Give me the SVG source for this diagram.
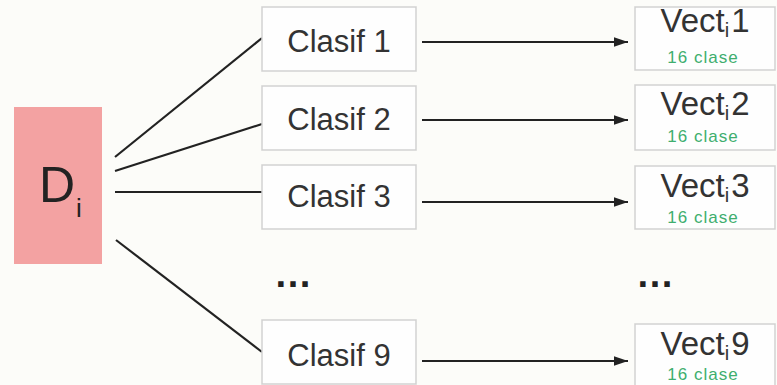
<svg xmlns="http://www.w3.org/2000/svg" width="777" height="385" viewBox="0 0 777 385">
<defs>
<style>
.box{fill:#fefefe;stroke:#d2d2d2;stroke-width:1.5}
.lbl{font-family:"Liberation Sans",Arial,sans-serif;fill:#333;font-size:31px;text-anchor:middle}
.vec{font-family:"Liberation Sans",Arial,sans-serif;fill:#333;font-size:33px;text-anchor:middle}
.sub{font-size:20px}
.cls{font-family:"Liberation Sans",Arial,sans-serif;fill:#3fae6e;font-size:17px;letter-spacing:1px;text-anchor:middle}
.ln{stroke:#222;stroke-width:2.2;fill:none}
.dots{font-family:"Liberation Sans",Arial,sans-serif;fill:#222;font-size:38px;font-weight:bold}
</style>
<marker id="ah" viewBox="0 0 10 10" refX="10" refY="5" markerWidth="6.5" markerHeight="4.3" markerUnits="strokeWidth" orient="auto" preserveAspectRatio="none">
<path d="M0,0 L10,5 L0,10 z" fill="#222"/>
</marker>
</defs>
<rect width="777" height="385" fill="#fcfcf9"/>

<g id="connectors">
<line class="ln" x1="115" y1="157" x2="262" y2="38"/>
<line class="ln" x1="115" y1="171" x2="262" y2="124"/>
<line class="ln" x1="115" y1="192" x2="262" y2="192"/>
<line class="ln" x1="116" y1="240" x2="262" y2="352"/>
<line class="ln" x1="422" y1="42" x2="628" y2="42" marker-end="url(#ah)"/>
<line class="ln" x1="422" y1="120" x2="628" y2="120" marker-end="url(#ah)"/>
<line class="ln" x1="422" y1="202" x2="628" y2="202" marker-end="url(#ah)"/>
<line class="ln" x1="422" y1="361" x2="628" y2="361" marker-end="url(#ah)"/>
</g>

<g id="D">
<rect x="14" y="107" width="88" height="157" fill="#f3a2a2"/>
<text x="39" y="202" font-family="Liberation Sans,Arial,sans-serif" font-size="50" fill="#222">D</text>
<text x="76" y="217" font-family="Liberation Sans,Arial,sans-serif" font-size="26" fill="#222">i</text>
</g>

<g id="clasif1"><rect class="box" x="262" y="7" width="154" height="64"/><text class="lbl" x="339" y="52">Clasif 1</text></g>
<g id="clasif2"><rect class="box" x="262" y="86" width="154" height="64"/><text class="lbl" x="339" y="130">Clasif 2</text></g>
<g id="clasif3"><rect class="box" x="262" y="165" width="154" height="64"/><text class="lbl" x="339" y="207">Clasif 3</text></g>
<g id="dotsL"><text class="dots" x="274" y="287">…</text></g>
<g id="clasif9"><rect class="box" x="262" y="320" width="154" height="64"/><text class="lbl" x="339" y="366">Clasif 9</text></g>

<g id="vect1"><rect class="box" x="635" y="7" width="140" height="63"/>
<text class="vec" x="705" y="32">Vect<tspan class="sub" dy="5">i</tspan><tspan dy="-5" dx="2">1</tspan></text>
<text class="cls" x="703" y="63">16 clase</text></g>
<g id="vect2"><rect class="box" x="635" y="85" width="140" height="65"/>
<text class="vec" x="705" y="115">Vect<tspan class="sub" dy="5">i</tspan><tspan dy="-5" dx="2">2</tspan></text>
<text class="cls" x="703" y="142">16 clase</text></g>
<g id="vect3"><rect class="box" x="635" y="166" width="140" height="63"/>
<text class="vec" x="705" y="197">Vect<tspan class="sub" dy="5">i</tspan><tspan dy="-5" dx="2">3</tspan></text>
<text class="cls" x="703" y="223">16 clase</text></g>
<g id="dotsR"><text class="dots" x="636" y="287">…</text></g>
<g id="vect9"><rect class="box" x="635" y="324" width="140" height="70"/>
<text class="vec" x="705" y="355">Vect<tspan class="sub" dy="5">i</tspan><tspan dy="-5" dx="2">9</tspan></text>
<text class="cls" x="703" y="380">16 clase</text></g>
</svg>
